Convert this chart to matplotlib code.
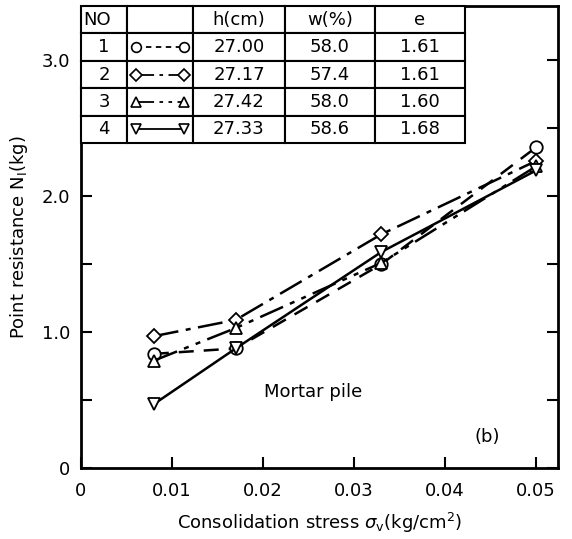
import numpy as np
import matplotlib
matplotlib.use("Agg")
import matplotlib.pyplot as plt

plt.rcParams['font.family'] = ['DejaVu Sans']

# data
stress = [0.008, 0.017, 0.033, 0.050]
n1_circle = [0.84, 0.88, 1.50, 2.36]
n1_diamond = [0.97, 1.09, 1.72, 2.26]
n1_tri_up = [0.79, 1.03, 1.51, 2.22]
n1_tri_down = [0.47, 0.88, 1.59, 2.19]

series = [n1_circle, n1_diamond, n1_tri_up, n1_tri_down]
markers = ['o', 'D', '^', 'v']
styles = [(0, (6, 4)), (0, (10, 3, 2, 3)), (0, (10, 3, 2, 3, 2, 3)), '-']
msizes = [9, 7.5, 9, 9]

table_cols = ['NO', '', 'h(cm)', 'w(%)', 'e']
table_no = ['1', '2', '3', '4']
table_h = ['27.00', '27.17', '27.42', '27.33']
table_w = ['58.0', '57.4', '58.0', '58.6']
table_e = ['1.61', '1.61', '1.60', '1.68']

xticks = [0, 0.01, 0.02, 0.03, 0.04, 0.05]
xticklabels = ['0', '0.01', '0.02', '0.03', '0.04', '0.05']
yticks = [0, 1.0, 2.0, 3.0]
yticklabels = ['0', '1.0', '2.0', '3.0']

fig = plt.figure(figsize=(5.72, 5.39), dpi=100)
ax = fig.add_axes([0.1416, 0.1317, 0.8339, 0.8572])

for ys, m, ls, ms in zip(series, markers, styles, msizes):
    ax.plot(stress, ys, color='black', linestyle=ls, linewidth=1.8,
            marker=m, markersize=ms, markerfacecolor='white',
            markeredgecolor='black', markeredgewidth=1.3, zorder=3)

ax.set_xlim(0, 0.0524)
ax.set_ylim(0, 3.40)
ax.set_xticks(xticks)
ax.set_xticklabels(xticklabels)
ax.set_yticks(yticks)
ax.set_yticklabels(yticklabels)
ax.set_yticks([0.5, 1.5, 2.5], minor=True)
ax.tick_params(axis='both', which='both', direction='in', length=8, width=1.5,
               labelsize=13, right=True, top=False, pad=8)
ax.tick_params(axis='x', pad=10)
for s in ax.spines.values():
    s.set_linewidth(2)

ax.set_xlabel(r'Consolidation stress $\sigma_{\rm v}$(kg/cm$^2$)', fontsize=13, labelpad=8)
ax.set_ylabel(r'Point resistance N$_{\rm I}$(kg)', fontsize=13, labelpad=8)

ax.text(0.0201, 0.56, 'Mortar pile', fontsize=13, va='center', ha='left')
ax.text(0.0446, 0.23, '(b)', fontsize=13, va='center', ha='center')

# table in the upper left
cell_text = [[table_no[i], '', table_h[i], table_w[i], table_e[i]] for i in range(4)]
col_w = np.array([46, 66, 92, 90, 90], dtype=float)
col_w = col_w / col_w.sum() * 0.805
tbl = ax.table(cellText=cell_text, colLabels=table_cols, colWidths=list(col_w),
               bbox=[0, 0.703, 0.805, 0.297], cellLoc='center')
tbl.auto_set_font_size(False)
tbl.set_fontsize(13)
for (r, c), cell in tbl.get_celld().items():
    cell.set_linewidth(1.5)
    cell.set_edgecolor('black')
    cell.set_facecolor('white')
    cell.set_zorder(4)
tbl.get_celld()[(0, 0)].get_text().set_ha('left')
tbl.get_celld()[(0, 0)].PAD = 0.05
tbl.set_zorder(4)

# line samples in the symbol column
x0 = col_w[0] + 0.018
x1 = col_w[0] + col_w[1] - 0.018
row_h = 0.297 / 5
for i, (m, ls) in enumerate(zip(markers, styles)):
    yc = 1.0 - row_h * (i + 1.5)
    ax.plot([x0, x1], [yc, yc], transform=ax.transAxes, color='black',
            linestyle=ls if ls != (0, (6, 4)) else (0, (3, 2.5)), linewidth=1.3,
            marker=m, markersize=7 if m != 'D' else 6, markerfacecolor='white',
            markeredgecolor='black', markeredgewidth=1.2, clip_on=False, zorder=5)

fig.savefig('out.png', dpi=100)
